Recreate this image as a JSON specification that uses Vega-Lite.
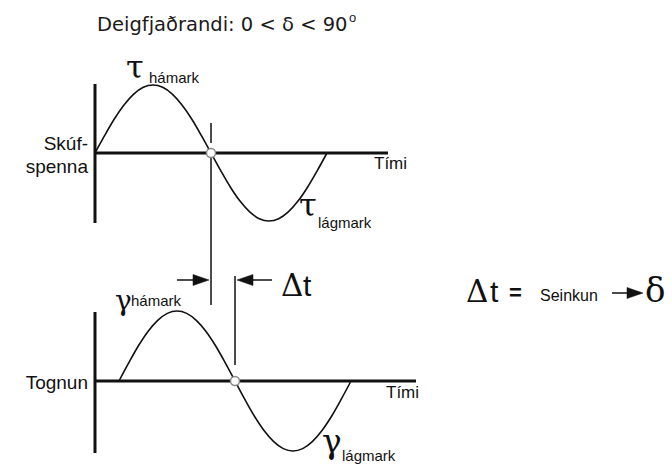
{
  "$schema": "https://vega.github.io/schema/vega-lite/v6.json",
  "width": 672,
  "height": 464,
  "autosize": {"type": "fit", "contains": "padding"},
  "padding": 0,
  "background": "white",
  "config": {"view": {"stroke": null}},
  "datasets": {
    "curves": [
      {"series": "tau", "x": 95, "y": 153}, {"series": "tau", "x": 104.7, "y": 135.4}, {"series": "tau", "x": 114.3, "y": 119},
      {"series": "tau", "x": 124, "y": 104.9}, {"series": "tau", "x": 133.7, "y": 94.1}, {"series": "tau", "x": 143.3, "y": 87.3},
      {"series": "tau", "x": 153, "y": 85}, {"series": "tau", "x": 162.7, "y": 87.3}, {"series": "tau", "x": 172.3, "y": 94.1},
      {"series": "tau", "x": 182, "y": 104.9}, {"series": "tau", "x": 191.7, "y": 119}, {"series": "tau", "x": 201.3, "y": 135.4},
      {"series": "tau", "x": 211, "y": 153}, {"series": "tau", "x": 220.7, "y": 170.6}, {"series": "tau", "x": 230.3, "y": 187},
      {"series": "tau", "x": 240, "y": 201.1}, {"series": "tau", "x": 249.7, "y": 211.9}, {"series": "tau", "x": 259.3, "y": 218.7},
      {"series": "tau", "x": 269, "y": 221}, {"series": "tau", "x": 278.7, "y": 218.7}, {"series": "tau", "x": 288.3, "y": 211.9},
      {"series": "tau", "x": 298, "y": 201.1}, {"series": "tau", "x": 307.7, "y": 187}, {"series": "tau", "x": 317.3, "y": 170.6},
      {"series": "tau", "x": 327, "y": 153},
      {"series": "gamma", "x": 119, "y": 381}, {"series": "gamma", "x": 128.7, "y": 362.9}, {"series": "gamma", "x": 138.3, "y": 346},
      {"series": "gamma", "x": 148, "y": 331.5}, {"series": "gamma", "x": 157.7, "y": 320.4}, {"series": "gamma", "x": 167.3, "y": 313.4},
      {"series": "gamma", "x": 177, "y": 311}, {"series": "gamma", "x": 186.7, "y": 313.4}, {"series": "gamma", "x": 196.3, "y": 320.4},
      {"series": "gamma", "x": 206, "y": 331.5}, {"series": "gamma", "x": 215.7, "y": 346}, {"series": "gamma", "x": 225.3, "y": 362.9},
      {"series": "gamma", "x": 235, "y": 381}, {"series": "gamma", "x": 244.7, "y": 399.1}, {"series": "gamma", "x": 254.3, "y": 416},
      {"series": "gamma", "x": 264, "y": 430.5}, {"series": "gamma", "x": 273.7, "y": 441.6}, {"series": "gamma", "x": 283.3, "y": 448.6},
      {"series": "gamma", "x": 293, "y": 451}, {"series": "gamma", "x": 302.7, "y": 448.6}, {"series": "gamma", "x": 312.3, "y": 441.6},
      {"series": "gamma", "x": 322, "y": 430.5}, {"series": "gamma", "x": 331.7, "y": 416}, {"series": "gamma", "x": 341.3, "y": 399.1},
      {"series": "gamma", "x": 351, "y": 381}
    ],
    "axes": [
      {"x": 95, "y": 84, "x2": 95, "y2": 223},
      {"x": 95, "y": 153, "x2": 388, "y2": 153},
      {"x": 95, "y": 312, "x2": 95, "y2": 453},
      {"x": 95, "y": 381, "x2": 416, "y2": 381}
    ],
    "guides": [
      {"x": 211, "y": 123, "x2": 211, "y2": 143},
      {"x": 211, "y": 158, "x2": 211, "y2": 305},
      {"x": 235, "y": 276, "x2": 235, "y2": 365},
      {"x": 177, "y": 280, "x2": 200, "y2": 280},
      {"x": 245, "y": 280, "x2": 272, "y2": 280},
      {"x": 612, "y": 293, "x2": 630, "y2": 293}
    ],
    "heads": [
      {"dir": "right", "x": 209, "y": 280},
      {"dir": "left", "x": 237, "y": 280},
      {"dir": "right", "x": 643, "y": 293}
    ],
    "crossings": [
      {"x": 211, "y": 153},
      {"x": 235, "y": 381}
    ],
    "labels": [
      {"role": "title", "label": "Deigfjaðrandi: 0 < δ < 90", "x": 97, "y": 31},
      {"role": "sup", "label": "o", "x": 349, "y": 22},
      {"role": "axisname", "label": "Skúf-", "x": 88, "y": 150},
      {"role": "axisname", "label": "spenna", "x": 88, "y": 173},
      {"role": "axisname", "label": "Tognun", "x": 88, "y": 389},
      {"role": "time", "label": "Tími", "x": 374, "y": 169},
      {"role": "time", "label": "Tími", "x": 386, "y": 398},
      {"role": "greek", "label": "τ", "x": 126, "y": 78},
      {"role": "greek", "label": "τ", "x": 299, "y": 216},
      {"role": "gammaS", "label": "γ", "x": 115, "y": 310},
      {"role": "gammaL", "label": "γ", "x": 322, "y": 453},
      {"role": "sub", "label": "hámark", "x": 149, "y": 83},
      {"role": "sub", "label": "lágmark", "x": 318, "y": 228},
      {"role": "sub", "label": "hámark", "x": 131, "y": 306},
      {"role": "sub", "label": "lágmark", "x": 342, "y": 461},
      {"role": "Delta", "label": "Δ", "x": 281, "y": 296},
      {"role": "Delta", "label": "Δ", "x": 466, "y": 302},
      {"role": "t", "label": "t", "x": 303, "y": 296},
      {"role": "t", "label": "t", "x": 490, "y": 302},
      {"role": "eq", "label": "=", "x": 509, "y": 300},
      {"role": "note", "label": "Seinkun", "x": 540, "y": 301},
      {"role": "delta", "label": "δ", "x": 645, "y": 302}
    ]
  },
  "encoding": {
    "x": {"field": "x", "type": "quantitative", "scale": {"domain": [0, 672], "nice": false, "zero": false}, "axis": null},
    "y": {"field": "y", "type": "quantitative", "scale": {"domain": [0, 464], "nice": false, "zero": false, "reverse": true}, "axis": null}
  },
  "layer": [
    {
      "data": {"name": "axes"},
      "mark": {"type": "rule", "color": "#111", "strokeWidth": 3},
      "encoding": {"x2": {"field": "x2"}, "y2": {"field": "y2"}}
    },
    {
      "data": {"name": "guides"},
      "mark": {"type": "rule", "color": "#111", "strokeWidth": 1.5},
      "encoding": {"x2": {"field": "x2"}, "y2": {"field": "y2"}}
    },
    {
      "data": {"name": "curves"},
      "mark": {"type": "line", "interpolate": "monotone", "color": "#111", "strokeWidth": 1.6},
      "encoding": {"detail": {"field": "series"}}
    },
    {
      "data": {"name": "heads"},
      "transform": [{"filter": "datum.dir === 'right'"}],
      "mark": {"type": "point", "shape": "M-1.6,-0.55L0,0L-1.6,0.55Z", "filled": true, "fill": "#111", "stroke": "#111", "strokeWidth": 0.5, "size": 400, "opacity": 1}
    },
    {
      "data": {"name": "heads"},
      "transform": [{"filter": "datum.dir === 'left'"}],
      "mark": {"type": "point", "shape": "M1.6,-0.55L0,0L1.6,0.55Z", "filled": true, "fill": "#111", "stroke": "#111", "strokeWidth": 0.5, "size": 400, "opacity": 1}
    },
    {
      "data": {"name": "crossings"},
      "mark": {"type": "point", "shape": "circle", "filled": true, "fill": "white", "stroke": "#888", "strokeWidth": 1.5, "size": 81, "opacity": 1}
    },
    {
      "data": {"name": "labels"},
      "transform": [{"filter": "datum.role === 'title'"}],
      "mark": {"type": "text", "align": "left", "baseline": "alphabetic", "font": "DejaVu Sans", "fontSize": 19.5, "color": "#1a1a1a"},
      "encoding": {"text": {"field": "label"}}
    },
    {
      "data": {"name": "labels"},
      "transform": [{"filter": "datum.role === 'sup'"}],
      "mark": {"type": "text", "align": "left", "baseline": "alphabetic", "font": "Liberation Sans", "fontSize": 13, "color": "#1a1a1a"},
      "encoding": {"text": {"field": "label"}}
    },
    {
      "data": {"name": "labels"},
      "transform": [{"filter": "datum.role === 'axisname'"}],
      "mark": {"type": "text", "align": "right", "baseline": "alphabetic", "font": "Liberation Sans", "fontSize": 19, "color": "#111"},
      "encoding": {"text": {"field": "label"}}
    },
    {
      "data": {"name": "labels"},
      "transform": [{"filter": "datum.role === 'time'"}],
      "mark": {"type": "text", "align": "left", "baseline": "alphabetic", "font": "Liberation Sans", "fontSize": 17, "color": "#111"},
      "encoding": {"text": {"field": "label"}}
    },
    {
      "data": {"name": "labels"},
      "transform": [{"filter": "datum.role === 'greek'"}],
      "mark": {"type": "text", "align": "left", "baseline": "alphabetic", "font": "DejaVu Serif", "fontSize": 32, "color": "#111"},
      "encoding": {"text": {"field": "label"}}
    },
    {
      "data": {"name": "labels"},
      "transform": [{"filter": "datum.role === 'gammaS'"}],
      "mark": {"type": "text", "align": "left", "baseline": "alphabetic", "font": "DejaVu Serif", "fontSize": 28, "color": "#111"},
      "encoding": {"text": {"field": "label"}}
    },
    {
      "data": {"name": "labels"},
      "transform": [{"filter": "datum.role === 'gammaL'"}],
      "mark": {"type": "text", "align": "left", "baseline": "alphabetic", "font": "DejaVu Serif", "fontSize": 33, "color": "#111"},
      "encoding": {"text": {"field": "label"}}
    },
    {
      "data": {"name": "labels"},
      "transform": [{"filter": "datum.role === 'sub'"}],
      "mark": {"type": "text", "align": "left", "baseline": "alphabetic", "font": "Liberation Sans", "fontSize": 15, "color": "#111"},
      "encoding": {"text": {"field": "label"}}
    },
    {
      "data": {"name": "labels"},
      "transform": [{"filter": "datum.role === 'Delta'"}],
      "mark": {"type": "text", "align": "left", "baseline": "alphabetic", "font": "DejaVu Serif", "fontSize": 31, "color": "#111"},
      "encoding": {"text": {"field": "label"}}
    },
    {
      "data": {"name": "labels"},
      "transform": [{"filter": "datum.role === 't'"}],
      "mark": {"type": "text", "align": "left", "baseline": "alphabetic", "font": "Liberation Sans", "fontSize": 30, "color": "#111"},
      "encoding": {"text": {"field": "label"}}
    },
    {
      "data": {"name": "labels"},
      "transform": [{"filter": "datum.role === 'eq'"}],
      "mark": {"type": "text", "align": "left", "baseline": "alphabetic", "font": "Liberation Sans", "fontSize": 22, "fontWeight": "bold", "color": "#111"},
      "encoding": {"text": {"field": "label"}}
    },
    {
      "data": {"name": "labels"},
      "transform": [{"filter": "datum.role === 'note'"}],
      "mark": {"type": "text", "align": "left", "baseline": "alphabetic", "font": "Liberation Sans", "fontSize": 16, "color": "#111"},
      "encoding": {"text": {"field": "label"}}
    },
    {
      "data": {"name": "labels"},
      "transform": [{"filter": "datum.role === 'delta'"}],
      "mark": {"type": "text", "align": "left", "baseline": "alphabetic", "font": "DejaVu Serif", "fontSize": 34, "color": "#111"},
      "encoding": {"text": {"field": "label"}}
    }
  ]
}
